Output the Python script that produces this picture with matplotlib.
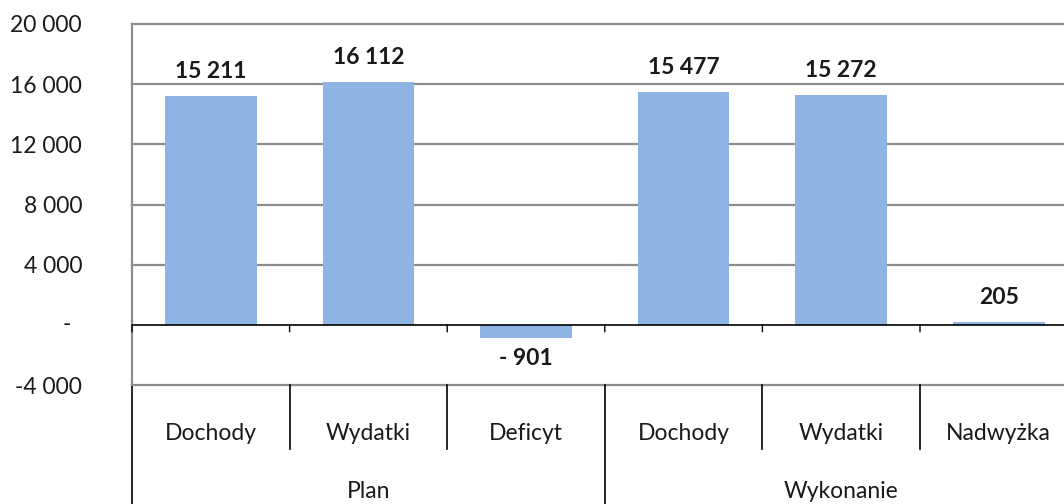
import matplotlib
matplotlib.use("Agg")
import matplotlib.pyplot as plt
import matplotlib.transforms as mtransforms
from matplotlib.lines import Line2D

categories = ["Dochody", "Wydatki", "Deficyt", "Dochody", "Wydatki", "Nadwyżka"]
groups = ["Plan", "Wykonanie"]
group_sizes = [3, 3]
values = [15211, 16112, -901, 15477, 15272, 205]
yticks = [-4000, 0, 4000, 8000, 12000, 16000, 20000]
ytick_labels = ["-4 000", "-", "4 000", "8 000", "12 000", "16 000", "20 000"]

W, H, DPI = 1064, 504, 100
BAR = "#8EB4E3"
GRID = "#8c8c8c"
TXT = "#1a1a1a"
FONT = "Lato"
FS = 16.5

plt.rcParams["font.family"] = [FONT, "DejaVu Sans"]

fig = plt.figure(figsize=(W / DPI, H / DPI), dpi=DPI)
left_px, right_px, top_px, bot_px = 132, 1077.6, 24, 385
ax = fig.add_axes([left_px / W, 1 - bot_px / H, (right_px - left_px) / W, (bot_px - top_px) / H])

n = len(categories)
x = list(range(n))
ax.bar(x, values, width=0.58, color=BAR, zorder=3)
ax.set_xlim(-0.5, n - 0.5)
ax.set_ylim(yticks[0], yticks[-1])

# gridlines
for yv in yticks:
    if yv != 0:
        ax.axhline(yv, color=GRID, lw=1.6, zorder=1, clip_on=False)
ax.axhline(0, color="#000000", lw=1.2, zorder=4)

for s in ["top", "right", "bottom"]:
    ax.spines[s].set_visible(False)
ax.spines["left"].set_color(GRID)
ax.spines["left"].set_linewidth(1.6)

ax.set_yticks(yticks)
ax.set_yticklabels(["" if t == 0 else l for t, l in zip(yticks, ytick_labels)],
                   fontsize=FS, color=TXT)
ax.tick_params(axis="y", length=0, pad=36)
ax.set_xticks([])

# zero tick label "-" (accounting style, set inward from the right edge)
zero_lab = ytick_labels[yticks.index(0)]
ax.text(67 / W, 0, zero_lab,
        transform=mtransforms.blended_transform_factory(fig.transFigure, ax.transData),
        fontsize=FS, color=TXT, ha="center", va="center")

# small tick marks at category boundaries below the zero line
for b in range(n + 1):
    xb = b - 0.5
    ax.annotate("", xy=(xb, 0), xycoords="data", xytext=(0, -7), textcoords="offset pixels",
                arrowprops=dict(arrowstyle="-", color="#000000", lw=1.0, shrinkA=0, shrinkB=0))

# data labels
for xi, v in zip(x, values):
    lab = f"{abs(v):,}".replace(",", " ")
    if v < 0:
        lab = "- " + lab
        ax.annotate(lab, (xi, v), xytext=(0, -10), textcoords="offset pixels",
                    ha="center", va="top", fontsize=FS, fontweight="bold", color=TXT)
    else:
        ax.annotate(lab, (xi, v), xytext=(0, 14), textcoords="offset pixels",
                    ha="center", va="bottom", fontsize=FS, fontweight="bold", color=TXT)

# multi-level category axis below the plot
bt = mtransforms.blended_transform_factory(ax.transData, fig.transFigure)


def fy(px):
    return 1 - px / H


boundaries_group = [-0.5]
acc = -0.5
for gs in group_sizes:
    acc += gs
    boundaries_group.append(acc)
for b in range(n + 1):
    xb = b - 0.5
    y_end = fy(H + 5) if xb in boundaries_group else fy(449)
    ax.add_line(Line2D([xb, xb], [fy(bot_px), y_end], transform=bt, color="#000000",
                       lw=1.2, clip_on=False))
for xi, c in zip(x, categories):
    ax.text(xi, fy(433), c, transform=bt, ha="center", va="center", fontsize=FS, color=TXT)
start = 0
for g, gs in zip(groups, group_sizes):
    ax.text(start + (gs - 1) / 2, fy(491), g, transform=bt, ha="center", va="center",
            fontsize=FS, color=TXT)
    start += gs

fig.savefig("out.png", dpi=DPI)
